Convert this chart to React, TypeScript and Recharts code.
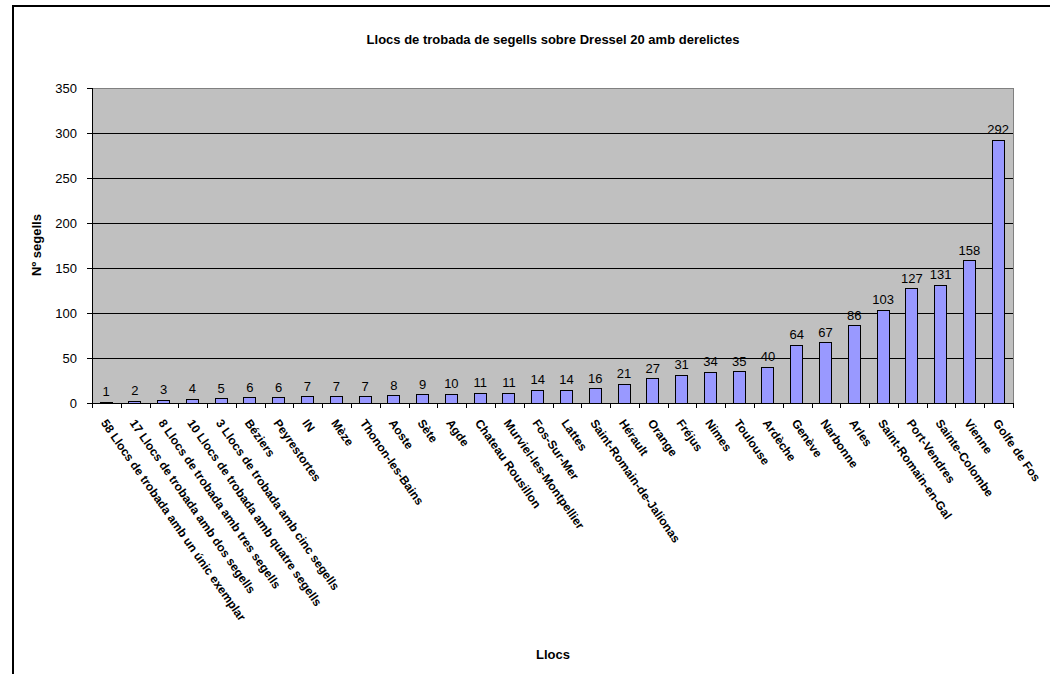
import { BarChart, Bar, XAxis, YAxis, CartesianGrid, LabelList, ReferenceArea } from "recharts";

const places = [
  "58 Llocs de trobada amb un únic exemplar",
  "17 Llocs de trobada amb dos segells",
  "8 Llocs de trobada amb tres segells",
  "10 Llocs de trobada amb quatre segells",
  "3 Llocs de trobada amb cinc segells",
  "Béziers",
  "Peyrestortes",
  "IN",
  "Mèze",
  "Thonon-les-Bains",
  "Aoste",
  "Sète",
  "Agde",
  "Chateau Rousillon",
  "Murviel-les-Montpellier",
  "Fos-Sur-Mer",
  "Lattes",
  "Saint-Romain-de-Jalionas",
  "Hérault",
  "Orange",
  "Fréjus",
  "Nimes",
  "Toulouse",
  "Ardèche",
  "Genève",
  "Narbonne",
  "Arles",
  "Saint-Romain-en-Gal",
  "Port-Vendres",
  "Sainte-Colombe",
  "Vienne",
  "Golfe de Fos",
];

const stamps = [
  1, 2, 3, 4, 5, 6, 6, 7, 7, 7, 8, 9, 10, 11, 11, 14, 14, 16, 21, 27, 31, 34, 35, 40, 64, 67, 86,
  103, 127, 131, 158, 292,
];

const yTicks = [0, 50, 100, 150, 200, 250, 300, 350];

const data = places.map((place, i) => ({ place, value: stamps[i] }));

const FONT = '"Liberation Sans", Arial, sans-serif';
const W = 1036;
const H = 667;
const MARGIN = { top: 81, right: 37, left: 0, bottom: 0 };
const Y_W = 78;
const step = (W - MARGIN.left - MARGIN.right - Y_W) / data.length;

function PlaceTick(props: any) {
  const { x, y, payload, index } = props;
  const tx = Math.round(x - step / 2) + 0.5;
  return (
    <g>
      <line x1={tx} y1={y} x2={tx} y2={y + 5} stroke="#000" />
      {index === data.length - 1 && (
        <line x1={Math.round(x + step / 2) + 0.5} y1={y} x2={Math.round(x + step / 2) + 0.5} y2={y + 5} stroke="#000" />
      )}
      <text
        x={x - 6}
        y={y + 20}
        transform={`rotate(55 ${x - 6} ${y + 20})`}
        textAnchor="start"
        fontFamily={FONT}
        fontWeight="bold"
        fontSize={12}
        fill="#000"
      >
        {payload.value}
      </text>
    </g>
  );
}

export default function App() {
  return (
    <div
      style={{
        position: "absolute",
        left: 12,
        top: 5,
        width: W,
        height: H + 10,
        borderTop: "2px solid #000",
        borderLeft: "2px solid #000",
        fontFamily: FONT,
        background: "#fff",
      }}
    >
      <div
        style={{
          position: "absolute",
          left: 289,
          top: 25,
          width: 500,
          textAlign: "center",
          fontWeight: "bold",
          fontSize: 13,
          lineHeight: "16px",
        }}
      >
        Llocs de trobada de segells sobre Dressel 20 amb derelictes
      </div>
      <div
        style={{
          position: "absolute",
          left: 23 - 60,
          top: 230,
          width: 120,
          textAlign: "center",
          fontWeight: "bold",
          fontSize: 13,
          lineHeight: "16px",
          transform: "rotate(-90deg)",
        }}
      >
        Nº segells
      </div>
      <div
        style={{
          position: "absolute",
          left: 439,
          top: 640,
          width: 200,
          textAlign: "center",
          fontWeight: "bold",
          fontSize: 13,
          lineHeight: "16px",
        }}
      >
        Llocs
      </div>
      <BarChart width={W} height={H} data={data} margin={MARGIN} barSize={12}>
        <CartesianGrid
          vertical={false}
          stroke="#000"
          fill="#C0C0C0"
          fillOpacity={1}
          shapeRendering="crispEdges"
        />
        <ReferenceArea
          y1={0}
          y2={350}
          fill="none"
          stroke="#808080"
          strokeWidth={1}
          ifOverflow="visible"
          shapeRendering="crispEdges"
        />
        <XAxis
          dataKey="place"
          interval={0}
          height={H - MARGIN.top - 315}
          tickLine={false}
          tickSize={0}
          tickMargin={0}
          axisLine={{ stroke: "#000", shapeRendering: "crispEdges" }}
          tick={<PlaceTick />}
        />
        <YAxis
          width={Y_W}
          domain={[0, 350]}
          ticks={yTicks}
          interval={0}
          axisLine={{ stroke: "#000", shapeRendering: "crispEdges" }}
          tickLine={{ stroke: "#000", shapeRendering: "crispEdges" }}
          tickSize={5}
          tickMargin={10}
          tick={{ fill: "#000", fontSize: 13, fontFamily: FONT }}
        />
        <Bar
          dataKey="value"
          fill="#9999FF"
          stroke="#000"
          strokeWidth={1}
          shapeRendering="crispEdges"
          isAnimationActive={false}
        >
          <LabelList dataKey="value" position="top" offset={6} fill="#000" fontSize={13} fontFamily={FONT} />
        </Bar>
      </BarChart>
    </div>
  );
}
